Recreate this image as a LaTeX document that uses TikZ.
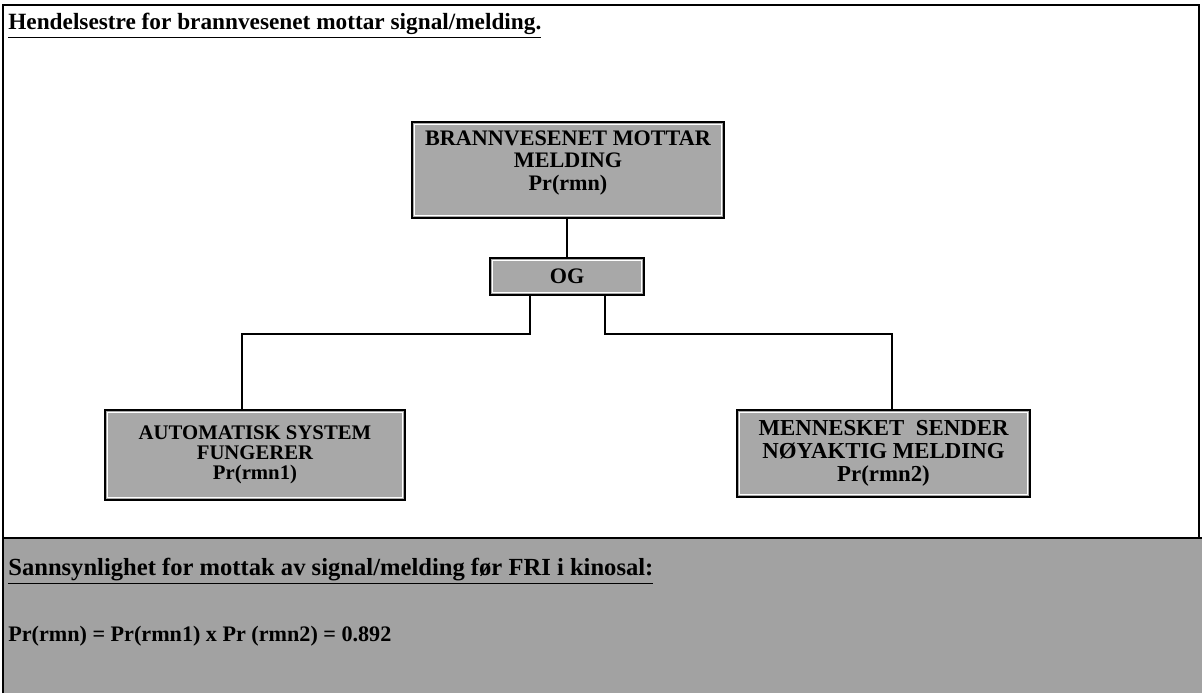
\documentclass[tikz,border=0pt]{standalone}
\usepackage{fontspec}
\setmainfont{Liberation Serif}
\begin{document}
\begin{tikzpicture}[x=0.02cm,y=-0.02cm,
  event/.style={draw=black, line width=1.6pt, fill=boxgray, align=center,
    inner sep=0pt,
    path picture={\draw[white, line width=0.7pt]
      ([shift={(1.4pt,1.4pt)}]path picture bounding box.south west) rectangle
      ([shift={(-1.4pt,-1.4pt)}]path picture bounding box.north east);}},
  caption/.style={align=center, inner sep=0pt},
  link/.style={draw=black, line width=1.2pt},
  plain/.style={anchor=base west, inner sep=0pt}]
\definecolor{boxgray}{HTML}{A8A8A8}
\definecolor{bandgray}{HTML}{A2A2A2}
\useasboundingbox (0,0) rectangle (1202,693);
% white frame and grey result band
\fill[white] (0,0) rectangle (1202,693);
\fill[bandgray] (3,538) rectangle (1202,693);
\draw[line width=1.4pt] (3,693) -- (3,5) -- (1199,5) -- (1199,538);
\draw[line width=1.6pt] (3,538) -- (1202,538);
% title
\node[plain, font=\bfseries\fontsize{13.25}{15}\selectfont] (title) at (8,30)
  {\underline{Hendelsestre for brannvesenet mottar signal/melding.}};
% event tree: boxes
\node[event, minimum width=312*0.02cm, minimum height=96*0.02cm] (top) at (568,170) {};
\node[caption, font=\bfseries\fontsize{12.6}{12.6}\selectfont] (toptext) at (568,163)
  {BRANNVESENET MOTTAR\\MELDING\\Pr(rmn)};
\node[event, minimum width=154*0.02cm, minimum height=37*0.02cm,
      font=\bfseries\fontsize{12.6}{13}\selectfont] (og) at (567,276.5) {OG};
\node[event, minimum width=300*0.02cm, minimum height=90*0.02cm,
      font=\bfseries\fontsize{11.8}{11.5}\selectfont] (auto) at (255,455)
  {AUTOMATISK SYSTEM\\FUNGERER\\Pr(rmn1)};
\node[event, minimum width=293*0.02cm, minimum height=87*0.02cm,
      font=\bfseries\fontsize{13}{13}\selectfont] (human) at (883.5,453.5)
  {MENNESKET\ \ SENDER\\NØYAKTIG MELDING\\Pr(rmn2)};
% event tree: connectors
\draw[link] (og.north |- top.south) -- (og.north);
\draw[link] ([xshift=-37*0.02cm]og.south) |- (242,334) -- (242,334 |- auto.north);
\draw[link] ([xshift=38*0.02cm]og.south) |- (892,334) -- (892,334 |- human.north);
% probability result
\node[plain, font=\bfseries\fontsize{14}{16}\selectfont] (head) at (8,575)
  {\underline{Sannsynlighet for mottak av signal/melding før FRI i kinosal:}};
\node[plain, font=\bfseries\fontsize{12.6}{15}\selectfont] (eq) at (8,641)
  {Pr(rmn) = Pr(rmn1) x Pr (rmn2) = 0.892};
\end{tikzpicture}
\end{document}
